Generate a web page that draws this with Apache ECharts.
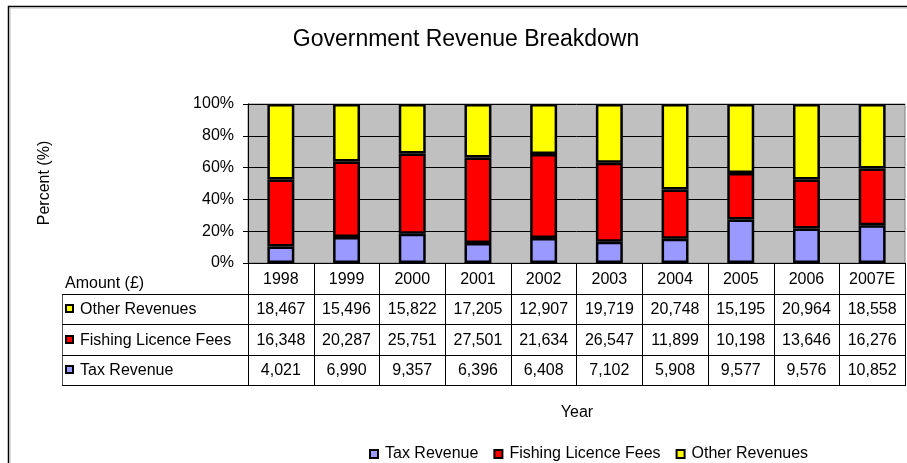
<!DOCTYPE html>
<html><head><meta charset="utf-8">
<script src="https://cdn.jsdelivr.net/npm/echarts@6/dist/echarts.min.js"></script>
<style>html,body{margin:0;padding:0;background:#fff}#c{width:907px;height:463px}</style>
</head><body><div id="c"></div>
<script>
const years = ['1998','1999','2000','2001','2002','2003','2004','2005','2006','2007E'];
const taxRevenue = [4021,6990,9357,6396,6408,7102,5908,9577,9576,10852];
const fishingFees = [16348,20287,25751,27501,21634,26547,11899,10198,13646,16276];
const otherRevenues = [18467,15496,15822,17205,12907,19719,20748,15195,20964,18558];
const seriesNames = ['Tax Revenue','Fishing Licence Fees','Other Revenues'];
const seriesColors = ['#9999FF','#FF0000','#FFFF00'];
const seriesValues = [taxRevenue, fishingFees, otherRevenues];

const totals = years.map((_, i) => taxRevenue[i] + fishingFees[i] + otherRevenues[i]);
const pct = arr => arr.map((v, i) => v / totals[i] * 100);
const FONT = "'Liberation Sans', Arial, sans-serif";

const chart = echarts.init(document.getElementById('c'), null, {renderer: 'canvas'});
const GRID = {left: 248, right: 2, top: 104, bottom: 200};

chart.setOption({
  animation: false,
  backgroundColor: '#fff',
  textStyle: {fontFamily: FONT, color: '#000'},
  title: {
    text: 'Government Revenue Breakdown', left: 461, top: 23, textAlign: 'center',
    textStyle: {fontFamily: FONT, fontSize: 23, fontWeight: 'normal', color: '#000'}
  },
  legend: {
    data: seriesNames, left: 364, top: 441, icon: 'rect', itemWidth: 8, itemHeight: 8, itemGap: 15,
    textStyle: {fontFamily: FONT, fontSize: 16, color: '#000', padding: [0,0,0,2]},
    itemStyle: {borderColor: '#000', borderWidth: 2}
  },
  grid: Object.assign({show: true, backgroundColor: '#C0C0C0', borderColor: '#808080', borderWidth: 1}, GRID),
  xAxis: {
    type: 'category', data: years,
    axisLabel: {show: false}, axisTick: {show: false},
    axisLine: {lineStyle: {color: '#000', width: 1}}
  },
  yAxis: {
    type: 'value', min: 0, max: 100, interval: 20,
    axisLabel: {formatter: '{value}%', fontSize: 16, color: '#000', margin: 14, fontFamily: FONT},
    axisLine: {show: true, lineStyle: {color: '#000', width: 1}},
    axisTick: {show: true, length: 5, lineStyle: {color: '#000'}},
    splitLine: {lineStyle: {color: '#000', width: 1}}
  },
  series: seriesNames.map((name, k) => ({
    name, type: 'bar', stack: 'total', barWidth: '41%',
    data: pct(seriesValues[k]),
    itemStyle: {color: seriesColors[k], borderColor: '#000', borderWidth: 2.5}
  }))
});

// Data table below the chart
const xs = years.map((_, i) => chart.convertToPixel({xAxisIndex: 0}, i));
const colW = xs[1] - xs[0];
const tLeft = xs[0] - colW / 2;
const tRight = tLeft + colW * years.length;
const yTop = chart.convertToPixel({yAxisIndex: 0}, 0);
const rowH = 30.6;
const rowsY = [yTop, yTop + rowH, yTop + 2 * rowH, yTop + 3 * rowH, yTop + 4 * rowH].map(v => Math.round(v));
const labelLeft = 62;
const g = [];
const line = (x1, y1, x2, y2, c) => g.push({type: 'line', shape: {x1, y1, x2, y2}, style: {stroke: c || '#000', lineWidth: 1}, z: 100});
const text = (t, x, y, align) => g.push({type: 'text', x, y, style: {text: t, fontFamily: FONT, fontSize: 16, fill: '#000', align: align || 'center', verticalAlign: 'middle'}, z: 101});

// outer frame
g.push({type: 'rect', shape: {x: 8.5, y: 6.5, width: 950, height: 500}, style: {fill: null, stroke: '#000', lineWidth: 1.5}, z: 99});
g.push({type: 'rect', shape: {x: 10, y: 8, width: 950, height: 500}, style: {fill: null, stroke: '#BBBBBB', lineWidth: 1}, z: 99});

for (let k = 0; k <= years.length; k++) {
  const x = Math.round(tLeft + k * colW) + 0.5;
  line(x, rowsY[0], x, rowsY[4]);
}
line(labelLeft + 0.5, rowsY[1], labelLeft + 0.5, rowsY[4], '#555');
for (let r = 1; r <= 4; r++) line(labelLeft, rowsY[r] + 0.5, Math.round(tRight) + 1, rowsY[r] + 0.5);

years.forEach((y, i) => text(y, xs[i], (rowsY[0] + rowsY[1]) / 2 + 1));
const rowOrder = [2, 1, 0];
rowOrder.forEach((k, r) => {
  const cy = (rowsY[r + 1] + rowsY[r + 2]) / 2 + 1;
  g.push({type: 'rect', shape: {x: 66, y: Math.round(cy) - 5, width: 7, height: 7}, style: {fill: seriesColors[k], stroke: '#000', lineWidth: 2}, z: 101});
  text(seriesNames[k], 80, cy, 'left');
  seriesValues[k].forEach((v, i) => text(v.toLocaleString('en-US'), xs[i], cy));
});
text('Amount (£)', 65, 284, 'left');
text('Year', 577, 413);
g.push({type: 'text', x: 45, y: 183, rotation: Math.PI / 2, style: {text: 'Percent (%)', fontFamily: FONT, fontSize: 16, fill: '#000', align: 'center', verticalAlign: 'middle'}, z: 101});

chart.setOption({graphic: {elements: g}});
</script>
</body></html>
